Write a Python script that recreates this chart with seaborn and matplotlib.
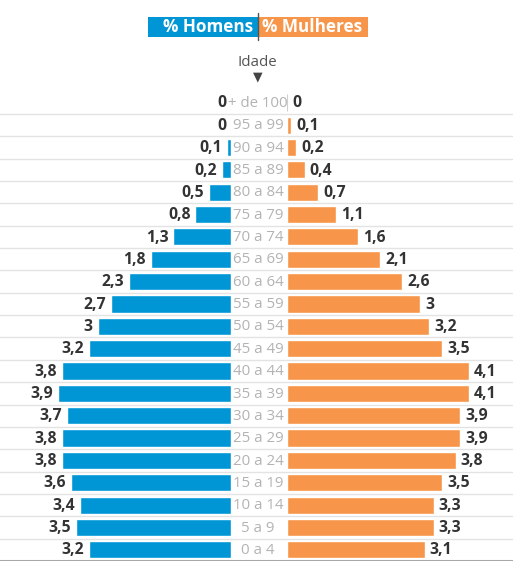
import matplotlib
matplotlib.use("Agg")
import matplotlib.pyplot as plt
import matplotlib.transforms as mtransforms
from matplotlib.patches import Rectangle
from matplotlib.lines import Line2D
import seaborn as sns
import pandas as pd

# age groups, top to bottom
ages = ["+ de 100", "95 a 99", "90 a 94", "85 a 89", "80 a 84", "75 a 79",
        "70 a 74", "65 a 69", "60 a 64", "55 a 59", "50 a 54", "45 a 49",
        "40 a 44", "35 a 39", "30 a 34", "25 a 29", "20 a 24", "15 a 19",
        "10 a 14", "5 a 9", "0 a 4"]
homens = [0, 0, 0.1, 0.2, 0.5, 0.8, 1.3, 1.8, 2.3, 2.7, 3, 3.2,
          3.8, 3.9, 3.7, 3.8, 3.8, 3.6, 3.4, 3.5, 3.2]
mulheres = [0, 0.1, 0.2, 0.4, 0.7, 1.1, 1.6, 2.1, 2.6, 3, 3.2, 3.5,
            4.1, 4.1, 3.9, 3.9, 3.8, 3.5, 3.3, 3.3, 3.1]

BLUE = "#0096d6"
ORANGE = "#f7964a"
LABEL = "#333333"
AGE_GREY = "#b3b3b3"

sns.set_theme(style="white")
plt.rcParams["font.family"] = ["Open Sans", "DejaVu Sans"]

df = pd.DataFrame({"idade": ages, "homens": homens, "mulheres": mulheres})

W, H = 513, 570
fig = plt.figure(figsize=(W / 100, H / 100), dpi=100)

px_per_unit = 44.4
top_px, bot_px = 91.6, 561.0
left_end, right_start = 231, 287
b = 1 - bot_px / H
h = (bot_px - top_px) / H
n = len(ages)
ylim = (n - 0.5, -0.5)

# background axes: row separators and age labels
bg = fig.add_axes([0, b, 1, h])
bg.set_xlim(0, 1)
bg.set_ylim(*ylim)
for i in range(n - 1):
    bg.axhline(i + 0.5, color="#e3e3e3", lw=1)
bg.axhline(n - 0.5, color="#a8a8a8", lw=2.2)
for i, a in enumerate(ages):
    bg.text(0.503, i + 0.03, a, ha="center", va="center", color=AGE_GREY,
            fontsize=10.8)
bg.axis("off")

# men (left, inverted)
axl = fig.add_axes([0, b, left_end / W, h])
sns.barplot(data=df, y="idade", x="homens", order=ages, color=BLUE,
            width=0.77, saturation=1, ax=axl, orient="h")
axl.set_xlim((left_end / px_per_unit), 0)

# women (right)
axr = fig.add_axes([right_start / W, b, (W - right_start) / W, h])
sns.barplot(data=df, y="idade", x="mulheres", order=ages, color=ORANGE,
            width=0.77, saturation=1, ax=axr, orient="h")
axr.set_xlim(0, (W - right_start) / px_per_unit)


def fmt(v):
    return f"{v:g}".replace(".", ",")


for ax, vals, dx, ha in [(axl, homens, -5, "right"), (axr, mulheres, 5, "left")]:
    ax.set_ylim(*ylim)
    ax.patch.set_alpha(0)
    ax.set_xlabel("")
    ax.set_ylabel("")
    ax.set_xticks([])
    ax.set_yticks([])
    sns.despine(ax=ax, left=True, bottom=True)
    for p in ax.patches:
        if p.get_width() == 0:
            p.set_edgecolor("#cfcfcf")
            p.set_linewidth(0.8)
    tr = mtransforms.offset_copy(ax.transData, fig=fig, x=dx, y=0, units="dots")
    for i, v in enumerate(vals):
        ax.text(v, i + 0.03, fmt(v), transform=tr, ha=ha, va="center",
                fontsize=11.3, fontweight="bold", color=LABEL)

# header legend
fx = lambda x: x / W
fy = lambda y: 1 - y / H
fig.add_artist(Rectangle((fx(148), fy(36.5)), fx(257.5) - fx(148), fy(16.5) - fy(36.5),
                         transform=fig.transFigure, color=BLUE, lw=0))
fig.add_artist(Rectangle((fx(258.5), fy(36.5)), fx(368) - fx(258.5), fy(16.5) - fy(36.5),
                         transform=fig.transFigure, color=ORANGE, lw=0))
fig.add_artist(Line2D([fx(258), fx(258)], [fy(13), fy(40)], transform=fig.transFigure,
                      color="#555555", lw=1))
fig.text(fx(208), fy(26.5), "% Homens", ha="center", va="center", color="white",
         fontsize=12.3, fontweight="bold")
fig.text(fx(312), fy(26.5), "% Mulheres", ha="center", va="center", color="white",
         fontsize=12.3, fontweight="bold")
fig.text(fx(257), fy(62), "Idade", ha="center", va="center", color="#555555",
         fontsize=10.8)
fig.text(fx(258), fy(77), "\u25bc", ha="center", va="center", color="#444444",
         fontsize=9, family=["DejaVu Sans"])

fig.savefig("out.png", dpi=100, facecolor="white")
